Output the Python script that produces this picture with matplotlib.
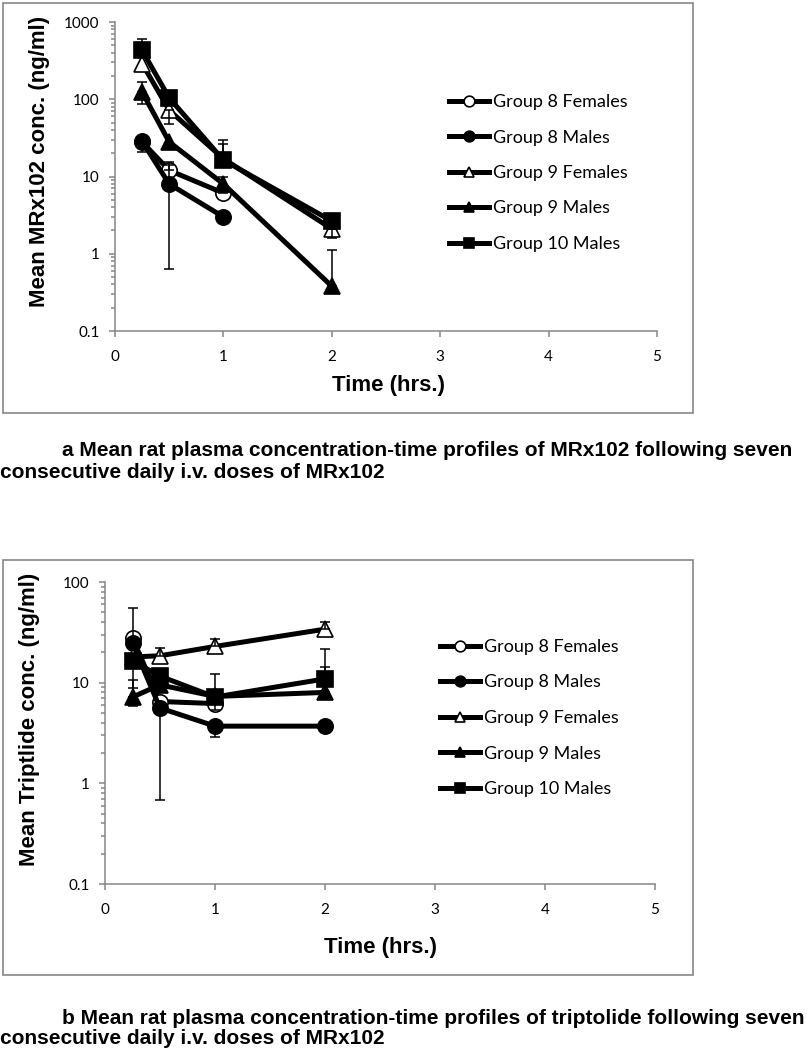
import numpy as np
import matplotlib.pyplot as plt
from matplotlib.patches import Rectangle
from matplotlib.ticker import LogLocator, FixedLocator, FixedFormatter, NullFormatter

nan = np.nan

# sampling times (hrs.)
time = [0.25, 0.5, 1, 2]
groups = ["Group 8 Females", "Group 8 Males", "Group 9 Females",
          "Group 9 Males", "Group 10 Males"]

# panel a: MRx102 (ng/ml)
mrx_g8f = [28, 12, 6.1, nan]
mrx_g8m = [28.5, 8.0, 3.0, nan]
mrx_g9f = [290, 72, 17, 2.1]
mrx_g9m = [124, 28, 8.0, 0.38]
mrx_g10m = [430, 104, 16.3, 2.65]
# error bar ends (upper / lower), nan = hidden
mrx_hi = [[nan, 15.3, 9.8, nan], [nan, 14, nan, nan], [nan, nan, 26, nan],
          [165, nan, nan, 1.12], [600, nan, 30, nan]]
mrx_lo = [[nan, nan, nan, nan], [21, 0.63, nan, nan], [nan, 48, nan, 1.6],
          [86, nan, nan, nan], [nan, nan, nan, nan]]

# panel b: triptolide (ng/ml)
tri_g8f = [27.7, 6.5, 6.2, nan]
tri_g8m = [24.7, 5.6, 3.7, 3.7]
tri_g9f = [18, 18.5, 22.9, 34]
tri_g9m = [7.2, 9.5, 7.3, 8.0]
tri_g10m = [16.5, 11.6, 7.2, 10.9]
tri_hi = [[55, nan, 12.3, nan], [nan, nan, nan, nan], [nan, 22, 27, 40],
          [10.7, nan, 8.5, 14.2], [nan, nan, nan, 21.6]]
tri_lo = [[nan, nan, nan, nan], [nan, 0.68, 2.9, nan], [nan, nan, nan, nan],
          [5.8, nan, 5.4, 7.0], [8.9, nan, nan, nan]]

styles = [dict(marker='o', mfc='white'), dict(marker='o', mfc='black'),
          dict(marker='^', mfc='white'), dict(marker='^', mfc='black'),
          dict(marker='s', mfc='black')]

W, H = 808, 1050
fig = plt.figure(figsize=(W / 100, H / 100), dpi=100)
tick_font = ['Lato', 'DejaVu Sans']
bold_font = ['Liberation Sans', 'DejaVu Sans']
gray = '#868686'


def fx(px):
    return px / W


def fy(py):
    return 1 - py / H


def panel(rect, series, his, los, ymin, ymax, legend_xy):
    ax = fig.add_axes(rect)
    for vals, hi, lo, st, name in zip(series, his, los, styles, groups):
        v = np.array(vals, float)
        m = ~np.isnan(v)
        t = np.array(time)
        ax.plot(t[m], v[m], color='black', lw=3.6, ms=11, mec='black',
                mew=1.2, label=name, zorder=3, **st)
        hi = np.array(hi, float)
        lo = np.array(lo, float)
        for i in range(len(time)):
            for end in (hi[i], lo[i]):
                if not np.isnan(end):
                    ax.errorbar([time[i]], [v[i]],
                                yerr=[[max(v[i] - end, 0)], [max(end - v[i], 0)]],
                                fmt='none', ecolor='black', elinewidth=1.1,
                                capsize=3.5, capthick=1.1, zorder=4)
    ax.set_yscale('log')
    ax.set_ylim(ymin, ymax)
    ax.set_xlim(0, 5)
    ax.set_xticks(range(6))
    majors = [10.0 ** k for k in range(int(np.log10(ymin)), int(np.log10(ymax)) + 1)]
    ax.yaxis.set_major_locator(FixedLocator(majors))
    ax.yaxis.set_major_formatter(FixedFormatter([('%g' % v) for v in majors]))
    ax.yaxis.set_minor_locator(LogLocator(base=10, subs=np.arange(2, 10)))
    ax.yaxis.set_minor_formatter(NullFormatter())
    for s in ('top', 'right'):
        ax.spines[s].set_visible(False)
    for s in ('left', 'bottom'):
        ax.spines[s].set_color(gray)
        ax.spines[s].set_linewidth(1.1)
    ax.tick_params(axis='both', which='both', color=gray, width=1.1)
    ax.tick_params(axis='y', which='major', length=4, pad=7)
    ax.tick_params(axis='y', which='minor', length=3)
    ax.tick_params(axis='x', length=4, pad=10)
    for lab in ax.get_xticklabels() + ax.get_yticklabels():
        lab.set_family(tick_font)
        lab.set_fontsize(11)
    ax.legend(loc='upper left', bbox_to_anchor=legend_xy,
              bbox_transform=fig.transFigure, frameon=False, borderpad=0,
              borderaxespad=0, handlelength=2.2, handletextpad=0.25,
              labelspacing=1.08, markerscale=0.7,
              prop=dict(family=tick_font, size=13))
    return ax


# panel a
fig.add_artist(Rectangle((fx(3), fy(413)), fx(690), 410 / H, transform=fig.transFigure,
                         fill=False, edgecolor=gray, lw=1.2))
panel([fx(115), fy(331), fx(657 - 115), (331 - 22) / H],
      [mrx_g8f, mrx_g8m, mrx_g9f, mrx_g9m, mrx_g10m], mrx_hi, mrx_lo,
      0.1, 1000, (fx(449), fy(94)))
fig.text(fx(40), fy(161), 'Mean MRx102 conc. (ng/ml)', rotation=90,
         ha='center', va='center', fontsize=16, fontweight='bold', family=bold_font)
fig.text(fx(389), fy(386), 'Time (hrs.)', ha='center', va='center',
         fontsize=16, fontweight='bold', family=bold_font)
fig.text(fx(62), fy(451),
         'a Mean rat plasma concentration-time profiles of MRx102 following seven',
         ha='left', va='center', fontsize=15, fontweight='bold', family=bold_font)
fig.text(fx(0), fy(472), 'consecutive daily i.v. doses of MRx102',
         ha='left', va='center', fontsize=15, fontweight='bold', family=bold_font)

# panel b
fig.add_artist(Rectangle((fx(3), fy(975)), fx(690), 415 / H, transform=fig.transFigure,
                         fill=False, edgecolor=gray, lw=1.2))
panel([fx(105), fy(884), fx(655 - 105), (884 - 582) / H],
      [tri_g8f, tri_g8m, tri_g9f, tri_g9m, tri_g10m], tri_hi, tri_lo,
      0.1, 100, (fx(440), fy(639)))
fig.text(fx(30), fy(719), 'Mean Triptlide conc. (ng/ml)', rotation=90,
         ha='center', va='center', fontsize=16, fontweight='bold', family=bold_font)
fig.text(fx(380), fy(947), 'Time (hrs.)', ha='center', va='center',
         fontsize=16, fontweight='bold', family=bold_font)
fig.text(fx(62), fy(1018),
         'b Mean rat plasma concentration-time profiles of triptolide following seven',
         ha='left', va='center', fontsize=15, fontweight='bold', family=bold_font)
fig.text(fx(0), fy(1039), 'consecutive daily i.v. doses of MRx102',
         ha='left', va='center', fontsize=15, fontweight='bold', family=bold_font)

fig.savefig('out.png', dpi=100)
